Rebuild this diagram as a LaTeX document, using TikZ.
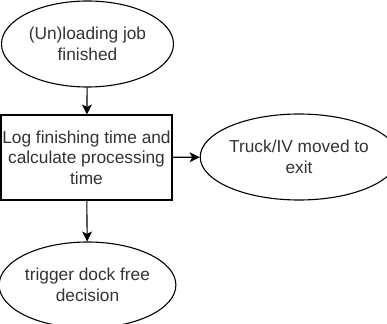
\documentclass[tikz,border=0pt]{standalone}
\usepackage{fontspec}
\setmainfont{Liberation Sans}
\usetikzlibrary{shapes.geometric,arrows.meta}
\definecolor{txt}{HTML}{333333}
\begin{document}
\begin{tikzpicture}[x=1pt,y=-1pt,
  base/.style={draw=black,line width=1.1pt,text=txt,font=\fontsize{17.3}{20.5}\selectfont,align=center,inner sep=0pt},
  oval/.style={base,ellipse,minimum width=172pt,minimum height=86pt},
  boxnode/.style={base,rectangle,minimum width=171pt,minimum height=85pt},
  conn/.style={draw=black,line width=1.1pt,-{Stealth[length=10pt,width=10pt,inset=2.5pt]}}]
\useasboundingbox (0,0) rectangle (387,323);
\node[oval] (start) at (87.5,44) {(Un)loading job\\finished};
\node[boxnode] (log) at (86.5,157.5) {Log finishing time and\\calculate processing\\time};
\node[oval] (exit) at (299,157) {Truck/IV moved to\\exit};
\node[oval] (dock) at (87.5,285) {trigger dock free\\decision};
\draw[conn] (start) -- (log);
\draw[conn] (log) -- (exit);
\draw[conn] (log) -- (dock);
\end{tikzpicture}
\end{document}
